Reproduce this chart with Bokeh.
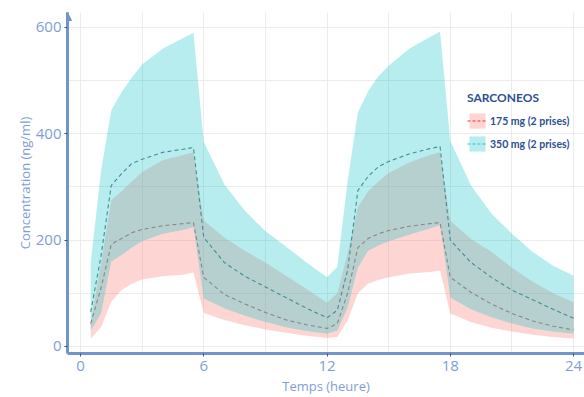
from bokeh.plotting import figure
from bokeh.models import (ColumnDataSource, FixedTicker, Legend, LegendItem, Range1d,
                          Arrow, NormalHead)
from bokeh.embed import file_html
from bokeh.resources import INLINE

# ---- data ----
t = [0.5, 1, 1.5, 2, 2.5, 3, 4, 5, 5.5, 6, 7, 8, 9, 10, 11, 12,
     12.5, 13, 13.5, 14, 14.5, 15, 16, 17, 17.5, 18, 19, 20, 21, 22, 23, 24]

hi350 = [158, 330, 444, 478, 506, 530, 560, 580, 590, 385, 305, 255, 217, 188, 158, 130,
         150, 310, 440, 480, 508, 528, 560, 582, 592, 387, 303, 250, 212, 178, 152, 133]
med350 = [65, 170, 303, 325, 344, 352, 365, 371, 374, 205, 158, 132, 112, 92, 72, 54,
          68, 143, 293, 320, 338, 348, 362, 372, 376, 200, 158, 130, 106, 88, 70, 53]
lo350 = [30, 62, 160, 172, 186, 198, 212, 219, 224, 90, 72, 58, 46, 36, 29, 24,
         30, 73, 148, 180, 190, 198, 210, 222, 228, 92, 70, 55, 43, 34, 28, 24]

hi175 = [45, 156, 275, 292, 310, 328, 350, 360, 365, 237, 205, 180, 158, 133, 108, 82,
         100, 175, 262, 292, 310, 326, 346, 360, 365, 237, 202, 178, 148, 122, 100, 83]
med175 = [43, 110, 192, 203, 214, 220, 227, 231, 233, 130, 98, 80, 64, 50, 41, 34,
          43, 100, 186, 203, 212, 218, 226, 231, 233, 130, 102, 80, 62, 48, 38, 31]
lo175 = [15, 36, 84, 106, 118, 126, 132, 135, 139, 63, 50, 40, 32, 26, 20, 16,
         18, 49, 100, 118, 125, 130, 137, 140, 143, 62, 46, 35, 28, 22, 18, 15]

x_ticks = [0, 6, 12, 18, 24]
x_grid = [0, 3, 6, 9, 12, 15, 18, 21, 24]
y_ticks = [0, 200, 400, 600]
y_grid = [0, 100, 200, 300, 400, 500, 600]

x_title = "Temps (heure)"
y_title = "Concentration (ng/ml)"
legend_title = "SARCONEOS"
labels = ["175 mg (2 prises)", "350 mg (2 prises)"]

PINK = "#F8766D"
CYAN = "#00BFC4"
AXIS = "#7393cc"
TXT = "#7f9ed6"

src = ColumnDataSource(dict(t=t, hi350=hi350, med350=med350, lo350=lo350,
                            hi175=hi175, med175=med175, lo175=lo175))

xmin, xmax = -0.63, 24.53
ymin, ymax = -13.2, 628

p = figure(width=584, height=397, output_backend="svg", toolbar_location=None,
           x_range=Range1d(xmin, xmax), y_range=Range1d(ymin, ymax),
           min_border_left=67, min_border_right=0, min_border_top=12, min_border_bottom=44)
p.outline_line_color = None
p.background_fill_color = "white"

p.varea(x="t", y1="lo175", y2="hi175", source=src, fill_color=PINK, fill_alpha=0.3)
p.varea(x="t", y1="lo350", y2="hi350", source=src, fill_color=CYAN, fill_alpha=0.28)
p.line(x="t", y="med175", source=src, line_color="#8c8585", line_width=1.1, line_dash="4 3")
p.line(x="t", y="med350", source=src, line_color="#3f8f92", line_width=1.1, line_dash="4 3")

# legend-only renderers (no visible data)
nan = float("nan")
empty = ColumnDataSource(dict(x=[nan], y1=[nan], y2=[nan]))
lp_a = p.varea(x="x", y1="y1", y2="y2", source=empty, fill_color=PINK, fill_alpha=0.3)
lp_l = p.line(x="x", y="y1", source=empty, line_color="#ff2a2a", line_width=1.2, line_dash="3 2")
lc_a = p.varea(x="x", y1="y1", y2="y2", source=empty, fill_color=CYAN, fill_alpha=0.28)
lc_l = p.line(x="x", y="y1", source=empty, line_color="#18c8cc", line_width=1.2, line_dash="3 2")

legend = Legend(items=[LegendItem(label=labels[0], renderers=[lp_a, lp_l]),
                       LegendItem(label=labels[1], renderers=[lc_a, lc_l])],
                location=(400, 200), title=legend_title)
legend.title_text_font = "Lato"
legend.title_text_font_style = "bold"
legend.title_text_font_size = "12px"
legend.title_text_color = "#2c4f92"
legend.title_standoff = 6
legend.label_text_font = "Lato"
legend.label_text_font_style = "bold"
legend.label_text_font_size = "10.5px"
legend.label_text_color = "#2c4f92"
legend.glyph_width = 20
legend.glyph_height = 19
legend.label_height = 19
legend.spacing = 4
legend.label_standoff = 3
legend.padding = 0
legend.margin = 0
legend.border_line_alpha = 0
legend.background_fill_alpha = 0
p.add_layout(legend, "center")

# axes
p.xaxis.ticker = FixedTicker(ticks=x_ticks)
p.yaxis.ticker = FixedTicker(ticks=y_ticks)
p.xgrid.ticker = FixedTicker(ticks=x_grid)
p.ygrid.ticker = FixedTicker(ticks=y_grid)
p.xgrid.grid_line_color = "#ececec"
p.ygrid.grid_line_color = "#ececec"

for ax in (p.xaxis, p.yaxis):
    ax.axis_line_color = AXIS
    ax.axis_line_width = 3
    ax.major_tick_line_color = "#555555"
    ax.major_tick_out = 3
    ax.major_tick_in = 0
    ax.minor_tick_line_color = None
    ax.major_label_text_color = TXT
    ax.major_label_text_font = "Open Sans"
    ax.major_label_text_font_size = "15px"
    ax.axis_label_text_color = TXT
    ax.axis_label_text_font = "Open Sans"
    ax.axis_label_text_font_size = "13px"
    ax.axis_label_text_font_style = "normal"

p.xaxis.axis_label = x_title
p.yaxis.axis_label = y_title
p.xaxis.major_label_standoff = 4
p.xaxis.axis_label_standoff = 3
p.yaxis.major_label_standoff = 3
p.yaxis.axis_label_standoff = -1

p.add_layout(Arrow(end=NormalHead(size=8, fill_color=AXIS, line_color=AXIS),
                   x_start=xmin, y_start=ymax - 30, x_end=xmin, y_end=ymax,
                   line_color=AXIS, line_width=3))

open("out.html", "w").write(file_html(p, INLINE))
